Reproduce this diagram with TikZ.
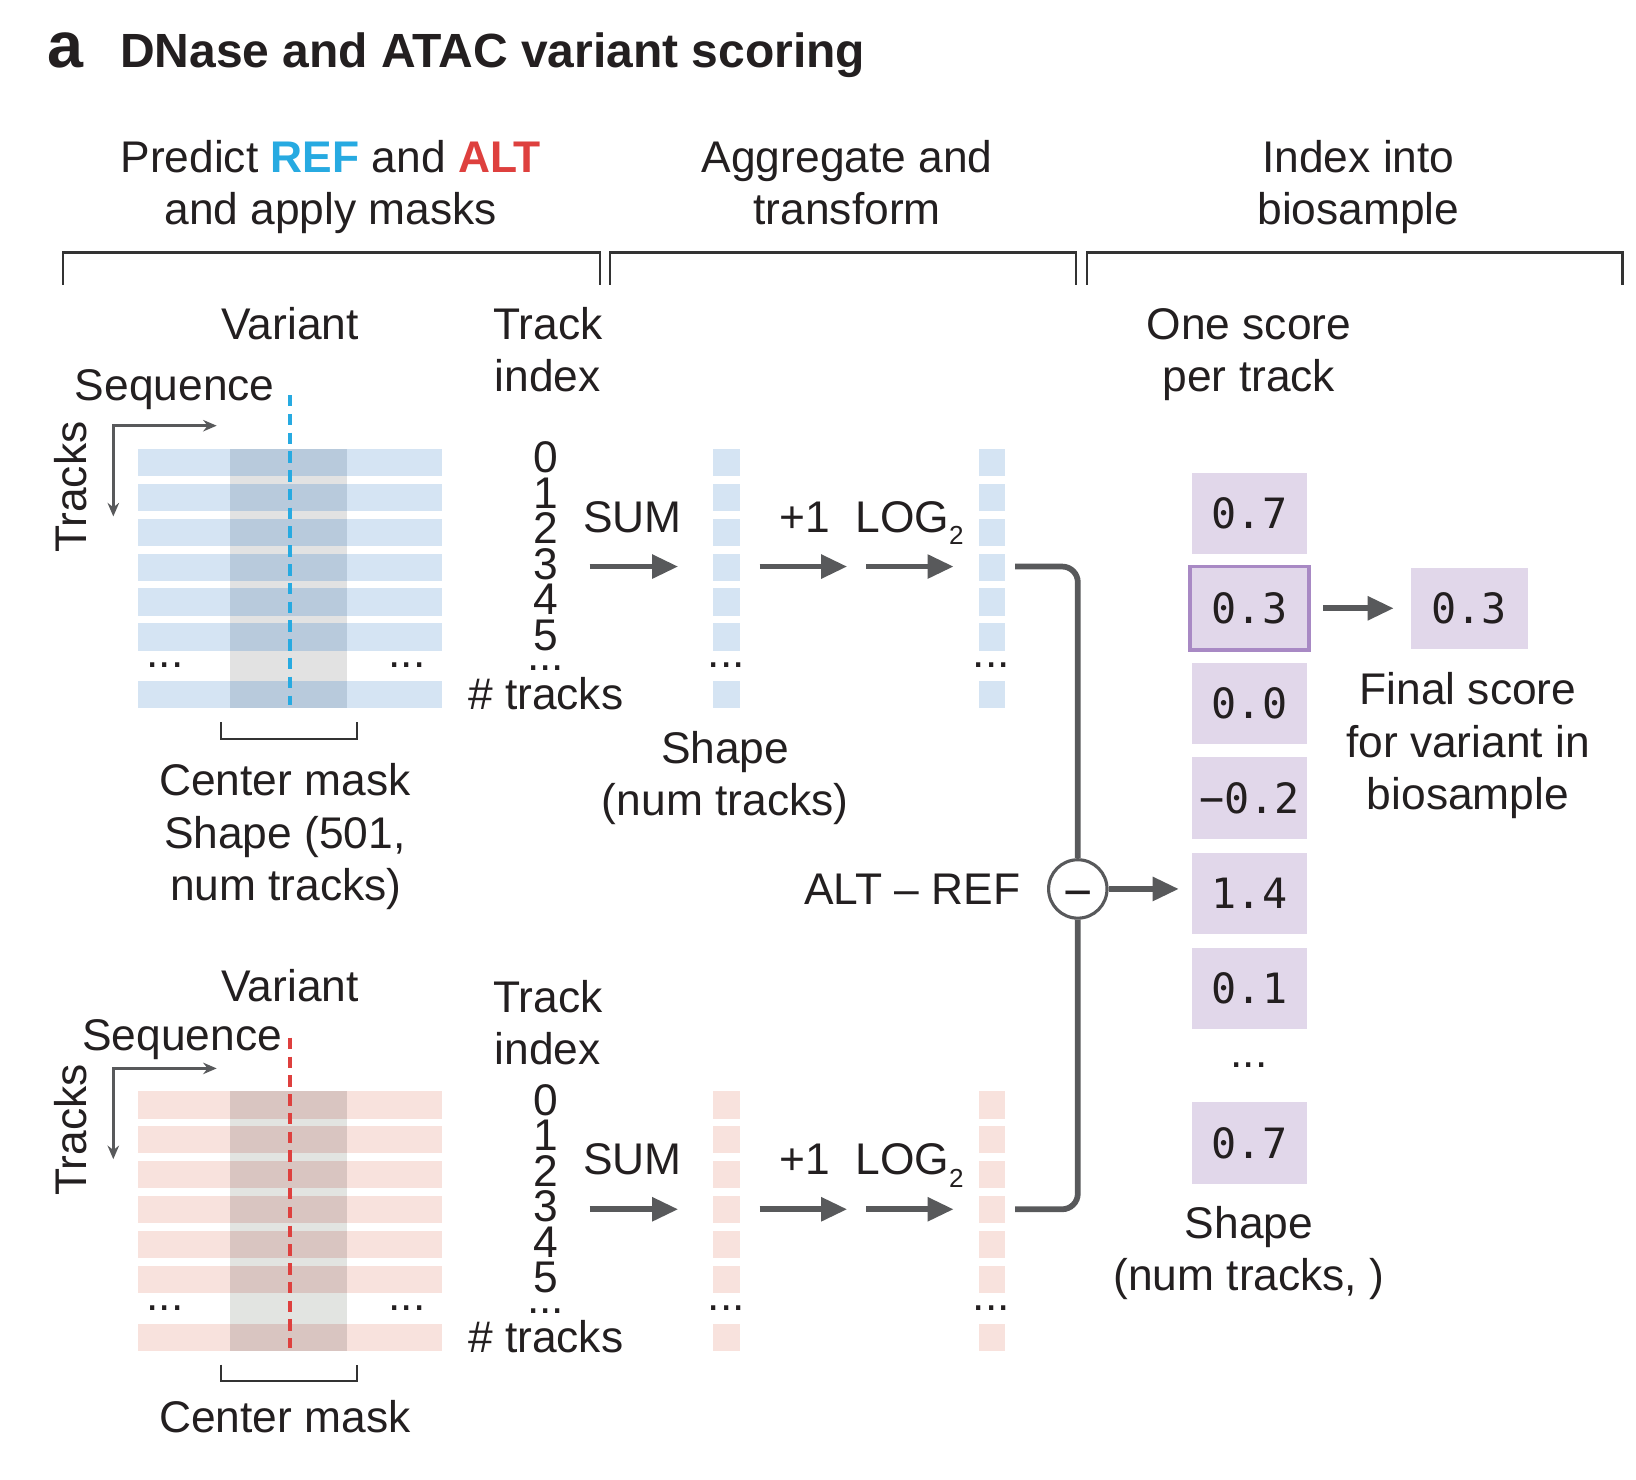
\documentclass[tikz,border=0pt]{standalone}
\usepackage{fontspec}
\setmainfont{Liberation Sans}
\newfontfamily\monofont{DejaVu Sans Mono}
\usetikzlibrary{arrows.meta}
\definecolor{ink}{HTML}{231F20}
\definecolor{refblue}{HTML}{27AAE1}
\definecolor{altred}{HTML}{DE403E}
\definecolor{rowblue}{HTML}{D5E4F3}
\definecolor{maskblue}{HTML}{B8CADC}
\definecolor{gapgray}{HTML}{E2E2E2}
\definecolor{rowpink}{HTML}{F8E2DD}
\definecolor{maskpink}{HTML}{D9C5C1}
\definecolor{gapgraypink}{HTML}{E2E4E1}
\definecolor{purp}{HTML}{E1D7EA}
\definecolor{purpedge}{HTML}{A889C4}
\definecolor{arrgray}{HTML}{58595B}
\definecolor{brk}{HTML}{333333}
\newcommand\mypanel[6]{%
 \begin{scope}[shift={(0,#1)}]
  \fill[#4] (220.4,430) rectangle (332.3,679);
  \foreach \yy in {430,463.5,497,530.5,564,597.5,653} {
    \fill[#2] (132,\yy) rectangle (220.4,\yy+26);
    \fill[#3] (220.4,\yy) rectangle (332.3,\yy+26);
    \fill[#2] (332.3,\yy) rectangle (423.3,\yy+26);
    \fill[#2] (683,\yy) rectangle (709,\yy+26);
    \fill[#2] (938,\yy) rectangle (963,\yy+26);
  }
  \coordinate (#6vt) at (278,378.6);
  \coordinate (#6vb) at (278,676);
  \draw[#5, line width=4pt, dash pattern=on 11pt off 7pt] (#6vt) -- (#6vb);
  \coordinate (#6axv) at (108.6,495);
  \coordinate (#6axc) at (108.6,408);
  \coordinate (#6axh) at (207.7,408);
  \draw[axisarrow] (#6axv) -- (#6axc) -- (#6axh);
  \node[txt, rotate=90] (#6tracks) at (68,467) {Tracks};
  \foreach \d in {0,...,5} {
    \node[txt, anchor=base] (#6d\d) at (523,453+34*\d) {\d};
  }
  \node[txt, anchor=base] (#6ddots) at (523,643) {...};
  \node[txt, anchor=base] (#6ntr) at (523,680) {\# tracks};
  \node[txt, anchor=base] (#6mdl) at (158,640) {...};
  \node[txt, anchor=base] (#6mdr) at (390,640) {...};
  \node[txt, anchor=base] (#6c1d) at (696,640) {...};
  \node[txt, anchor=base] (#6c2d) at (950,640) {...};
  \node[txt, anchor=base west] (#6sum) at (559,510) {SUM};
  \node[txt, anchor=base west] (#6plus) at (747,510) {+1};
  \node[txt, anchor=base west] (#6log) at (820,510) {LOG\raisebox{-12pt}{\fontsize{25}{25}\selectfont 2}};
  \coordinate (#6a1s) at (565,543); \coordinate (#6a1e) at (650,543);
  \coordinate (#6a2s) at (728,543); \coordinate (#6a2e) at (812,543);
  \coordinate (#6a3s) at (830,543); \coordinate (#6a3e) at (914,543);
  \draw[bigarrow] (#6a1s) -- (#6a1e);
  \draw[bigarrow] (#6a2s) -- (#6a2e);
  \draw[bigarrow] (#6a3s) -- (#6a3e);
  \coordinate (#6c2) at (973,543);
  \coordinate (#6mbl) at (212,692);
  \coordinate (#6mbr) at (342,692);
  \draw[bracketline] (#6mbl) -- ++(0,16) -| (#6mbr);
 \end{scope}}
\tikzset{
  txt/.style={font=\fontsize{42.5}{50.5}\selectfont, text=ink, inner sep=0pt, outer sep=0pt},
  mono/.style={font=\monofont\fontsize{40}{48}\selectfont, text=ink},
  bigarrow/.style={draw=arrgray, line width=5.5pt, -{Triangle[length=25pt,width=22pt]}},
  axisarrow/.style={draw=arrgray, line width=2.5pt, {Stealth[length=13pt,width=11pt]}-{Stealth[length=13pt,width=11pt]}},
  bracketline/.style={draw=brk, line width=2pt},
  conn/.style={draw=arrgray, line width=5.5pt, rounded corners=15pt},
  scorebox/.style={mono, fill=purp, minimum width=111pt, minimum height=78pt, inner sep=0pt},
}
\begin{document}
\begin{tikzpicture}[x=1pt,y=-1pt]
\path[use as bounding box] (0,0) rectangle (1568,1418);
% title
\node[anchor=base west, inner sep=0pt, text=ink, font=\bfseries\fontsize{62}{62}\selectfont] (ta) at (45,65) {a};
\node[anchor=base west, inner sep=0pt, text=ink, font=\bfseries\fontsize{46}{46}\selectfont] (title) at (115,65) {DNase and ATAC variant scoring};
% headers
\node[txt, anchor=base] (h1a) at (317,165) {Predict \textcolor{refblue}{\textbf{REF}} and \textcolor{altred}{\textbf{ALT}}};
\node[txt, anchor=base] (h1b) at (317,215) {and apply masks};
\node[txt, anchor=base] (h2a) at (812,165) {Aggregate and};
\node[txt, anchor=base] (h2b) at (812,215) {transform};
\node[txt, anchor=base] (h3a) at (1302,165) {Index into};
\node[txt, anchor=base] (h3b) at (1302,215) {biosample};
\coordinate (br1l) at (60,273); \coordinate (br1r) at (575,273);
\coordinate (br2l) at (585,273); \coordinate (br2r) at (1031,273);
\coordinate (br3l) at (1042,273); \coordinate (br3r) at (1555,273);
\draw[bracketline] (br1l) -- ++(0,-31) -| (br1r);
\draw[bracketline] (br2l) -- ++(0,-31) -| (br2r);
\draw[bracketline] (br3l) -- ++(0,-31) -| (br3r);
% panels
\mypanel{0}{rowblue}{maskblue}{gapgray}{refblue}{T}
\mypanel{616}{rowpink}{maskpink}{gapgraypink}{altred}{B}
% top panel labels
\node[txt, anchor=base] (tvar) at (278,325) {Variant};
\node[txt, anchor=base] (tseq) at (167.5,384) {Sequence};
\node[txt, anchor=base] (ttr1) at (525,325) {Track};
\node[txt, anchor=base] (ttr2) at (525,375) {index};
\node[txt, anchor=base] (tcm1) at (273,762) {Center mask};
\node[txt, anchor=base] (tcm2) at (273,813) {Shape (501,};
\node[txt, anchor=base] (tcm3) at (274,863) {num tracks)};
\node[txt, anchor=base] (msh1) at (695,732) {Shape};
\node[txt, anchor=base] (msh2) at (695,782) {(num tracks)};
% bottom panel labels
\node[txt, anchor=base] (bvar) at (278,960) {Variant};
\node[txt, anchor=base] (bseq) at (174.5,1007) {Sequence};
\node[txt, anchor=base] (btr1) at (525,970) {Track};
\node[txt, anchor=base] (btr2) at (525,1020) {index};
\node[txt, anchor=base] (bcm1) at (273,1373) {Center mask};
% difference
\node[circle, draw=arrgray, line width=3pt, fill=white, minimum size=56pt, inner sep=0pt] (minus) at (1033,852) {};
\node[txt, anchor=base, font=\fontsize{48}{48}\selectfont] (minussign) at (1033,872) {−};
\draw[conn] (Tc2) -| (minus.north);
\draw[conn] (Bc2) -| (minus.south);
\node[txt, anchor=base east] (altref) at (978,867) {ALT – REF};
% scores
\node[txt, anchor=base] (os1) at (1197,325) {One score};
\node[txt, anchor=base] (os2) at (1197,375) {per track};
\node[scorebox] (s1) at (1197.5,492) {0.7};
\node[scorebox, draw=purpedge, line width=3.5pt, minimum width=114pt, minimum height=80pt] (s2) at (1197.5,583) {0.3};
\node[scorebox] (s3) at (1197.5,674.5) {0.0};
\node[scorebox] (s4) at (1197.5,765) {−0.2};
\node[scorebox] (s5) at (1197.5,856.5) {1.4};
\node[scorebox] (s6) at (1197.5,947.5) {0.1};
\node[txt, anchor=base] (sdots) at (1197,1023) {...};
\node[scorebox] (s7) at (1197.5,1095.5) {0.7};
\node[scorebox, minimum width=112pt] (final) at (1408,583) {0.3};
\draw[bigarrow, shorten <=12pt, shorten >=16pt] (s2.east) -- (final.west);
\draw[bigarrow, shorten >=12pt] (minus.east) -- (minus.east -| s5.west);
\node[txt, anchor=base] (fs1) at (1407,675) {Final score};
\node[txt, anchor=base] (fs2) at (1407,726) {for variant in};
\node[txt, anchor=base] (fs3) at (1407,776) {biosample};
\node[txt, anchor=base] (rsh1) at (1197,1187) {Shape};
\node[txt, anchor=base] (rsh2) at (1197,1237) {(num tracks, )};
\end{tikzpicture}
\end{document}
